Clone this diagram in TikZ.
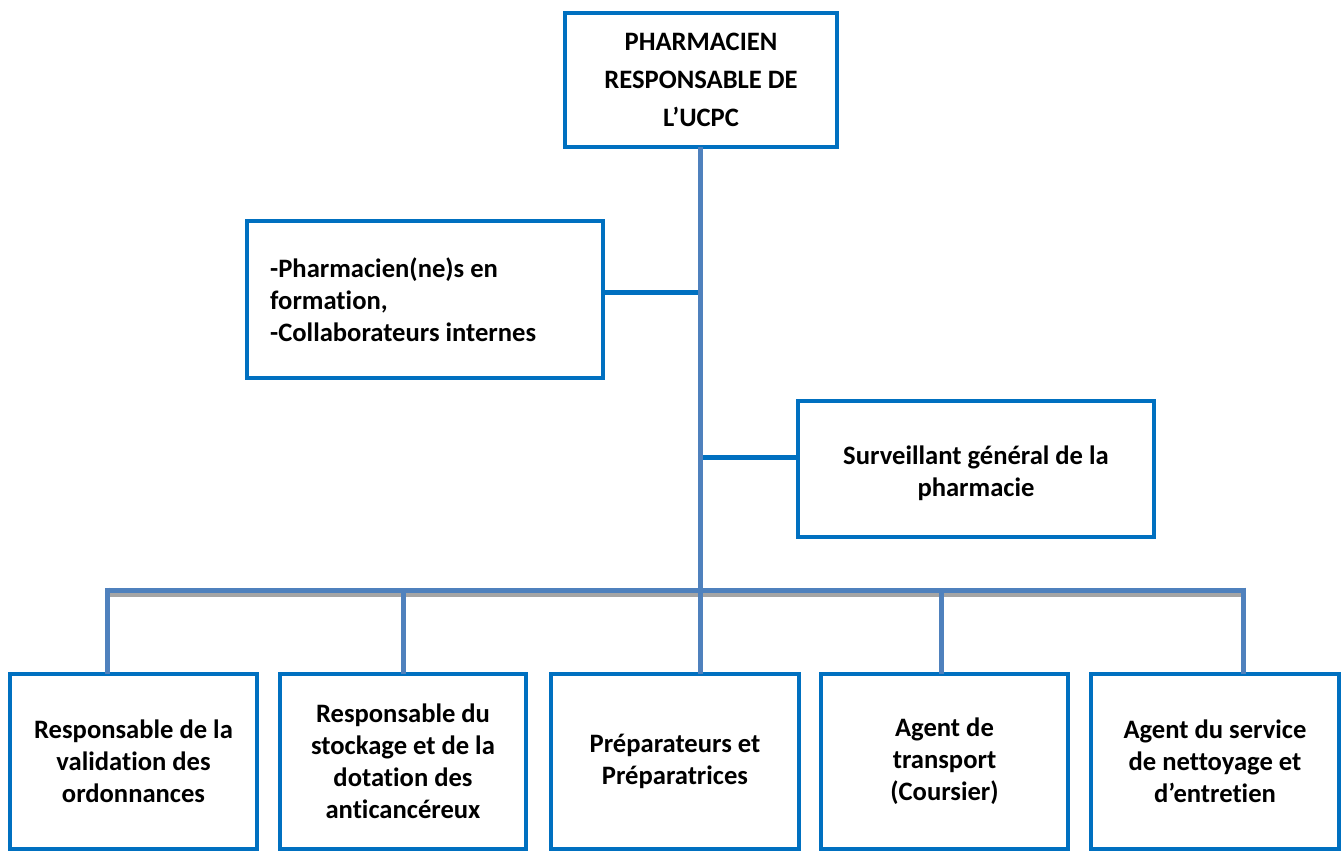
\documentclass[tikz,border=0pt]{standalone}
\usepackage{fontspec}
\setmainfont{Carlito}[Ligatures={NoCommon}]
\definecolor{boxblue}{RGB}{0,112,192}
\definecolor{linkblue}{RGB}{79,129,189}
\definecolor{shadowgray}{RGB}{165,165,165}
\begin{document}
\begin{tikzpicture}[x=1pt,y=-1pt,
  orgbox/.style={draw=boxblue, line width=4pt, inner sep=0pt, outer sep=0pt,
    font=\bfseries\fontsize{26.6}{32}\selectfont, align=center, text=black},
  boxtext/.style={inner sep=0pt, font=\bfseries\fontsize{26.6}{32}\selectfont,
    align=center, text=black},
  link/.style={draw=linkblue, line width=5pt},
  sidelink/.style={draw=boxblue, line width=5pt},
  shadowline/.style={draw=shadowgray, line width=5pt}]
\useasboundingbox (0,0) rectangle (1342,851);
\fill[white] (0,0) rectangle (1342,851);

% boxes
\node[orgbox, minimum width=272pt, minimum height=134pt,
  font=\bfseries\fontsize{26.6}{38}\selectfont] (top) at (701,80)
  {PHARMACIEN\\RESPONSABLE DE\\L’UCPC};
\node[orgbox, minimum width=356pt, minimum height=157pt] (left) at (425,299) {};
\node[boxtext, align=left, anchor=west] (lefttext) at (270,300)
  {-Pharmacien(ne)s en\\formation,\\-Collaborateurs internes};
\node[orgbox, minimum width=356pt, minimum height=136pt] (right) at (976,469) {};
\node[boxtext] (righttext) at (976,473) {Surveillant général de la\\pharmacie};

\node[orgbox, minimum width=247pt, minimum height=175pt] (b1) at (133.5,761)
  {Responsable de la\\validation des\\ordonnances};
\node[orgbox, minimum width=246pt, minimum height=175pt] (b2) at (403,761)
  {Responsable du\\stockage et de la\\dotation des\\anticancéreux};
\node[orgbox, minimum width=248pt, minimum height=175pt] (b3) at (675,761)
  {Préparateurs et\\Préparatrices};
\node[orgbox, minimum width=247pt, minimum height=175pt] (b4) at (944.5,761)
  {Agent de\\transport\\(Coursier)};
\node[orgbox, minimum width=248pt, minimum height=175pt] (b5) at (1215,761)
  {Agent du service\\de nettoyage et\\d’entretien};

% junction coordinates
\coordinate (j) at (700,590);
\coordinate (jl) at (700,292);
\coordinate (jr) at (700,457);
\coordinate (d1) at (107,590);
\coordinate (d2) at (403,590);
\coordinate (d4) at (941,590);
\coordinate (d5) at (1243,590);

% side connectors
\draw[sidelink] (jl -| left.east) -- (jl);
\draw[sidelink] (jr) -- (jr -| right.west);

% horizontal bar with shadow below
\draw[shadowline] ([yshift=-4pt]d1) -- ([yshift=-4pt]d5);
\draw[link] (d1) -- (d5);

% trunk
\draw[link] (top.south -| j) -- (j |- b3.north);

% drops
\draw[link] ([yshift=2.5pt]d1) -- (d1 |- b1.north);
\draw[link] (d2) -- (d2 |- b2.north);
\draw[link] (d4) -- (d4 |- b4.north);
\draw[link] ([yshift=2.5pt]d5) -- (d5 |- b5.north);
\end{tikzpicture}
\end{document}
